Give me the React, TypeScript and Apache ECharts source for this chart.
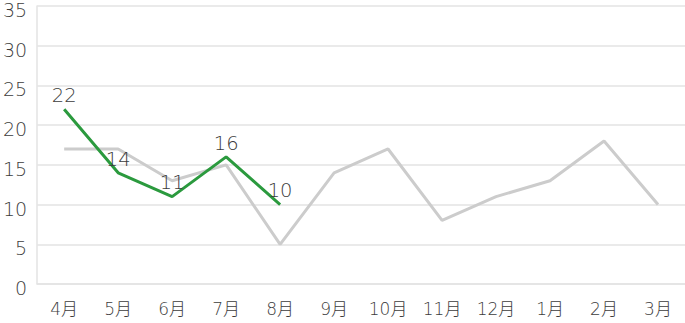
import React, { useEffect, useRef } from "react";
import * as echarts from "echarts";

const categories = ["4月", "5月", "6月", "7月", "8月", "9月", "10月", "11月", "12月", "1月", "2月", "3月"];
const previousYear = [17, 17, 13, 15, 5, 14, 17, 8, 11, 13, 18, 10];
const currentYear = [22, 14, 11, 16, 10];
const yTicks = { min: 0, max: 35, interval: 5 };

const FONT = "'DejaVu Sans', 'Noto Sans CJK JP', sans-serif";
const TEXT = "#3c3c3c";

export default function App() {
  const ref = useRef<HTMLDivElement>(null);
  useEffect(() => {
    if (!ref.current) return;
    const chart = echarts.init(ref.current, undefined, { renderer: "svg" });
    chart.setOption({
      animation: false,
      grid: { left: 36, right: 0, top: 6, bottom: 39, containLabel: false },
      xAxis: {
        type: "category",
        data: categories,
        boundaryGap: true,
        axisLine: { show: true, lineStyle: { color: "#e3e3e3", width: 1.5 } },
        axisTick: { show: false },
        axisLabel: { color: TEXT, fontSize: 17, fontWeight: 200, fontFamily: FONT, margin: 16 },
      },
      yAxis: {
        type: "value",
        min: yTicks.min,
        max: yTicks.max,
        interval: yTicks.interval,
        axisLine: { show: true, lineStyle: { color: "#e3e3e3", width: 1.5 } },
        axisTick: { show: false },
        axisLabel: {
          color: TEXT,
          fontSize: 19,
          fontWeight: 200,
          fontFamily: FONT,
          margin: 10,
          verticalAlign: "top",
          lineHeight: 8,
        },
        splitLine: { show: true, lineStyle: { color: "#e3e3e3", width: 1.5 } },
      },
      series: [
        {
          type: "line",
          data: previousYear,
          symbol: "none",
          lineStyle: { color: "#cccccc", width: 3 },
          itemStyle: { color: "#cccccc" },
          z: 1,
        },
        {
          type: "line",
          data: currentYear,
          symbol: "circle",
          symbolSize: 0,
          showSymbol: true,
          lineStyle: { color: "#2b9a3e", width: 3 },
          itemStyle: { color: "#2b9a3e" },
          label: {
            show: true,
            position: "top",
            distance: 4,
            color: TEXT,
            fontSize: 19.5,
            fontWeight: 200,
            fontFamily: FONT,
          },
          z: 2,
        },
      ],
    });
    return () => chart.dispose();
  }, []);
  return (
    <div
      ref={ref}
      style={{ position: "absolute", left: 0, top: 0, width: 685, height: 323 }}
    />
  );
}
